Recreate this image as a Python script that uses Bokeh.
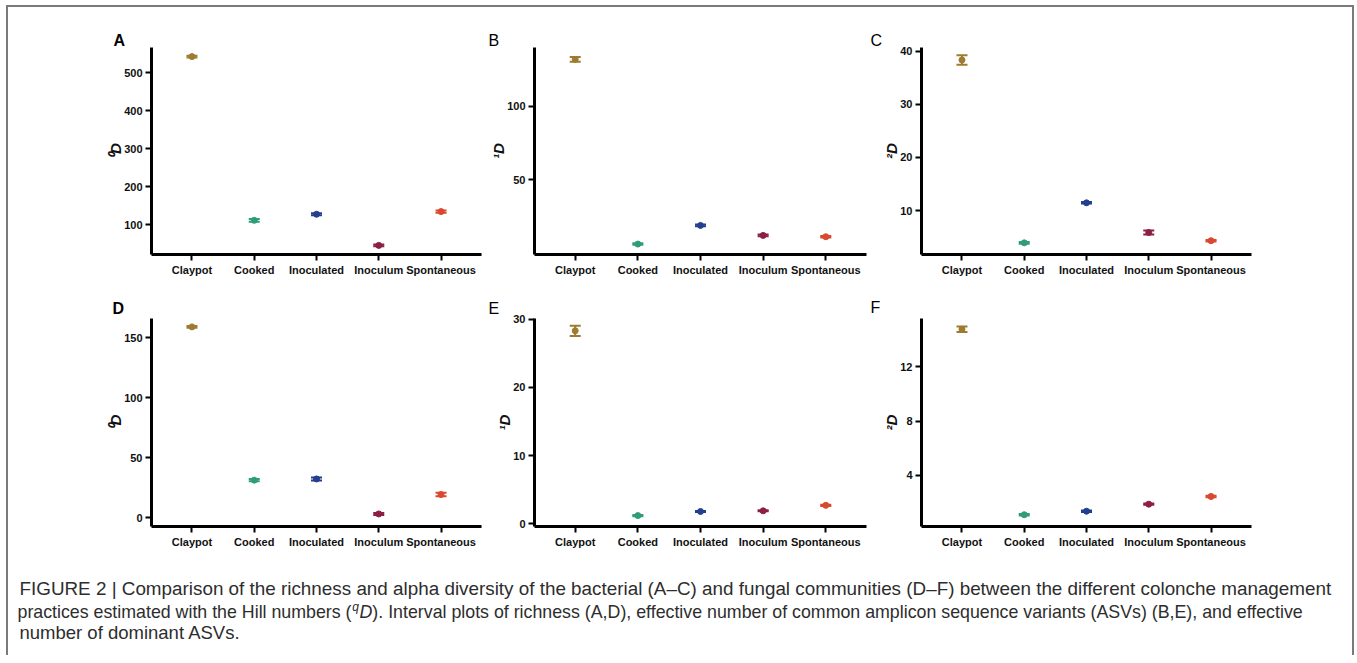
from bokeh.plotting import figure
from bokeh.models import FactorRange, Range1d, FixedTicker, ColumnDataSource
from bokeh.layouts import row, column
from bokeh.embed import file_html
from bokeh.resources import INLINE
from bokeh.core.properties import value

categories = ["Claypot", "Cooked", "Inoculated", "Inoculum", "Spontaneous"]
colors = ["#9e7b2f", "#2f9e77", "#233f8e", "#8c1f44", "#d9482f"]

# Bacterial communities (A-C)
bact_0D_mean = [543, 112, 128, 46, 135]
bact_0D_sd = [2.5, 3.5, 2.5, 2.5, 3.0]
bact_1D_mean = [131.9, 6.1, 18.8, 12.0, 11.1]
bact_1D_sd = [1.6, 0.5, 0.6, 0.6, 0.5]
bact_2D_mean = [38.4, 3.9, 11.45, 5.85, 4.3]
bact_2D_sd = [0.9, 0.15, 0.15, 0.4, 0.15]
# Fungal communities (D-F)
fung_0D_mean = [159.2, 31.2, 32.2, 3.0, 19.2]
fung_0D_sd = [0.8, 1.0, 1.2, 0.8, 1.5]
fung_1D_mean = [28.3, 1.2, 1.8, 1.9, 2.7]
fung_1D_sd = [0.75, 0.08, 0.08, 0.08, 0.08]
fung_2D_mean = [14.79, 1.07, 1.33, 1.85, 2.42]
fung_2D_sd = [0.2, 0.05, 0.05, 0.05, 0.05]

yticks_A = [100, 200, 300, 400, 500]
yticks_B = [50, 100]
yticks_C = [10, 20, 30, 40]
yticks_D = [0, 50, 100, 150]
yticks_E = [0, 10, 20, 30]
yticks_F = [4, 8, 12]

caption_l1 = ("FIGURE 2 | Comparison of the richness and alpha diversity of the bacterial (A\u2013C) "
              "and fungal communities (D\u2013F) between the different colonche management")
caption_l2a = "practices estimated with the Hill numbers ("
caption_l2q = "q"
caption_l2d = "D"
caption_l2b = ("). Interval plots of richness (A,D), effective number of common amplicon sequence "
               "variants (ASVs) (B,E), and effective")
caption_l3 = "number of dominant ASVs."

FONT = "Liberation Sans"


def panel(letter, bold_letter, ylabel, means, sds, yticks, ystart, yend,
          left, right, top, bottom, fw, fh, loff, lstand):
    p = figure(x_range=FactorRange(*categories, range_padding=0.15, range_padding_units="absolute"),
               y_range=Range1d(ystart, yend),
               frame_width=fw, frame_height=fh,
               min_border_left=left, min_border_right=right,
               min_border_top=top, min_border_bottom=bottom,
               output_backend="svg", toolbar_location=None)
    p.outline_line_color = None
    p.xgrid.visible = False
    p.ygrid.visible = False
    lo = [m - s for m, s in zip(means, sds)]
    hi = [m + s for m, s in zip(means, sds)]
    src = ColumnDataSource(dict(cat=categories, mean=means, lo=lo, hi=hi, color=colors))
    p.segment(x0="cat", y0="lo", x1="cat", y1="hi", source=src, line_color="color", line_width=2)
    p.scatter(x="cat", y="lo", source=src, marker="dash", size=11, line_color="color", line_width=2)
    p.scatter(x="cat", y="hi", source=src, marker="dash", size=11, line_color="color", line_width=2)
    p.scatter(x="cat", y="mean", source=src, marker="circle", size=6,
              fill_color="color", line_color="color")

    for ax in (p.xaxis[0], p.yaxis[0]):
        ax.axis_line_width = 3
        ax.axis_line_color = "black"
        ax.major_tick_line_width = 2
        ax.major_tick_line_color = "black"
        ax.major_tick_out = 6
        ax.major_tick_in = 0
        ax.minor_tick_line_color = None
        ax.major_label_text_font = FONT
        ax.major_label_text_font_style = "bold"
        ax.major_label_text_color = "#111111"
    p.xaxis.major_label_text_font_size = "11px"
    p.yaxis.major_label_text_font_size = "11px"
    p.xaxis.major_label_standoff = 3
    p.yaxis.major_label_standoff = 3
    p.yaxis.ticker = FixedTicker(ticks=yticks)
    p.yaxis.axis_label = ylabel
    p.yaxis.axis_label_text_font = FONT
    p.yaxis.axis_label_text_font_style = "bold italic"
    p.yaxis.axis_label_text_font_size = "15px"
    p.yaxis.axis_label_standoff = -3
    p.yaxis.axis_label_text_color = "#111111"

    p.title.text = letter
    p.title.align = "left"
    p.title.offset = loff
    p.title.standoff = lstand
    p.title.text_font = FONT
    p.title.text_font_size = "16px"
    p.title.text_font_style = "bold" if bold_letter else "normal"
    p.title.text_color = "black"
    return p


# row 1
pA = panel("A", True, "\u2070D", bact_0D_mean, bact_0D_sd, yticks_A, 22, 567,
           143, 6, 40, 28, 330, 207, -38, -2)
pB = panel("B", False, "\u00b9D", bact_1D_mean, bact_1D_sd, yticks_B, -1, 140,
           47, 4, 40, 28, 332, 207, -46, -2)
pC = panel("C", False, "\u00b2D", bact_2D_mean, bact_2D_sd, yticks_C, 1.7, 40.75,
           51, 101, 40, 28, 330, 207, -51, -2)
# row 2
pD = panel("D", True, "\u2070D", fung_0D_mean, fung_0D_sd, yticks_D, -7.5, 166.2,
           143, 6, 36, 29, 330, 208, -39, 3)
pE = panel("E", False, "\u00b9D", fung_1D_mean, fung_1D_sd, yticks_E, -0.4, 30.1,
           47, 4, 36, 29, 332, 208, -46, 3)
pF = panel("F", False, "\u00b2D", fung_2D_mean, fung_2D_sd, yticks_F, 0.2, 15.58,
           51, 101, 36, 29, 330, 208, -51, 6)

# caption (positions of the inline pieces follow Liberation Sans advance widths)
CW = 1344
FS1, FS2, FS3 = 18.85, 17.8, 18.5
cap = figure(x_range=Range1d(0, CW), y_range=Range1d(100, 0), width=CW, height=100,
             min_border=0, output_backend="svg", toolbar_location=None)
cap.axis.visible = False
cap.grid.visible = False
cap.outline_line_color = None
tc = "#2d2d2d"
x2 = 9
xq = x2 + 18.783 * FS2 + 0.5
xd = xq + 0.556 * 12 + 0.5
xb = xd + 0.722 * FS2
cap.text(x=[11], y=[33], text=[caption_l1], text_font=value(FONT), text_font_size=f"{FS1}px",
         text_color=tc, text_baseline="middle")
cap.text(x=[x2], y=[56], text=[caption_l2a], text_font=value(FONT), text_font_size=f"{FS2}px",
         text_color=tc, text_baseline="middle")
cap.text(x=[xq], y=[51], text=[caption_l2q], text_font=value(FONT), text_font_size="12px",
         text_font_style="italic", text_color=tc, text_baseline="middle")
cap.text(x=[xd], y=[56], text=[caption_l2d], text_font=value(FONT), text_font_size=f"{FS2}px",
         text_font_style="italic", text_color=tc, text_baseline="middle")
cap.text(x=[xb], y=[56], text=[caption_l2b], text_font=value(FONT), text_font_size=f"{FS2}px",
         text_color=tc, text_baseline="middle")
cap.text(x=[11], y=[77], text=[caption_l3], text_font=value(FONT), text_font_size=f"{FS3}px",
         text_color=tc, text_baseline="middle")

border = "2px solid #7a7a7a"
layout = column(row(pA, pB, pC), row(pD, pE, pF), cap,
                styles={"border-left": border, "border-top": border, "border-right": border,
                        "margin-left": "6px", "margin-top": "5px"})

open("out.html", "w").write(file_html(layout, INLINE))
